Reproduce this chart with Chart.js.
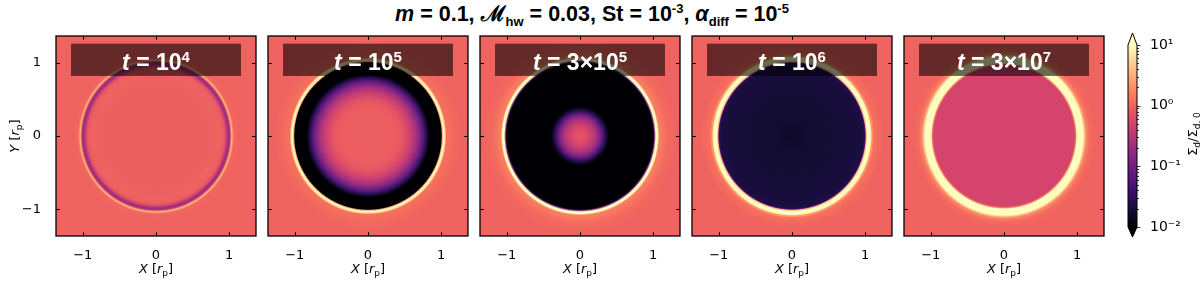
<!DOCTYPE html>
<html>
<head>
<meta charset="utf-8">
<script src="https://cdn.jsdelivr.net/npm/chart.js@4.4.0/dist/chart.umd.min.js"></script>
<style>
  body { margin: 0; width: 1200px; height: 282px; overflow: hidden; background: #fff; position: relative; }
  canvas { position: absolute; }
  #title { position: absolute; left: 0; width: 1184px; top: 2px; text-align: center;
           font: bold 21.5px "Liberation Sans", Arial, sans-serif; color: #000; line-height: 24px; }
  #title sub, #title sup { font-size: 13px; line-height: 0; }
</style>
</head>
<body>
<div id="title"><i>m</i> = 0.1, ℳ<sub>hw</sub> = 0.03, St = 10<sup>-3</sup>, <i>α</i><sub>diff</sub> = 10<sup>-5</sup></div>
<script>
// times shown in the panel headers: [mantissa part, exponent]
const panelTimes = [['10', '4'], ['10', '5'], ['3×10', '5'], ['10', '6'], ['3×10', '7']];

// azimuthally averaged profiles: radius [r_p] and log10(Sigma_d / Sigma_d,0)
const radii1 = [0, 0.75, 0.85, 0.92, 0.955, 0.975, 0.995, 1.012, 1.025, 1.035, 1.048, 1.065, 1.15, 2.0];
const logSigma1 = [-0.02, -0.02, 0.0, -0.04, -0.25, -0.6, -0.7, -0.4, 0.2, 0.6, 0.25, 0.03, 0.0, 0.0];

const radii2 = [0, 0.4, 0.5, 0.6, 0.65, 0.7, 0.75, 0.8, 0.84, 0.86, 1.0, 1.015, 1.03, 1.05, 1.07, 1.2, 1.3, 2.0];
const logSigma2 = [-0.02, -0.05, -0.15, -0.4, -0.6, -0.85, -1.15, -1.6, -2.1, -2.5, -2.5, 0.5, 1.2, 0.8, 0.1, 0.03, 0.0, 0.0];

const radii3 = [0, 0.1, 0.2, 0.25, 0.3, 0.35, 0.4, 0.42, 1.0, 1.015, 1.035, 1.06, 1.08, 1.2, 1.35, 2.0];
const logSigma3 = [-0.1, -0.2, -0.5, -0.75, -1.1, -1.6, -2.2, -2.5, -2.5, -1.0, 1.2, 1.0, 0.2, 0.05, 0.0, 0.0];

const radii4 = [0, 0.05, 0.2, 0.5, 0.95, 0.99, 1.0, 1.012, 1.03, 1.07, 1.09, 1.12, 1.25, 2.0];
const logSigma4 = [-1.8, -1.78, -1.74, -1.7, -1.66, -1.6, -1.1, 0.5, 1.2, 1.0, 0.4, 0.1, 0.0, 0.0];

const radii5 = [0, 0.96, 0.98, 0.995, 1.08, 1.1, 1.12, 1.17, 1.25, 2.0];
const logSigma5 = [-0.28, -0.28, 0.2, 1.0, 1.0, 0.6, 0.25, 0.06, 0.0, 0.0];

const profiles = [[radii1, logSigma1], [radii2, logSigma2], [radii3, logSigma3], [radii4, logSigma4], [radii5, logSigma5]];

const axisTicks = [-1, 0, 1];
const cbarTicks = [0.01, 0.1, 1, 10];
const cbarLabels = ['10⁻²', '10⁻¹', '10⁰', '10¹'];

const LIM = 1.365;
const LOG_MIN = -2, LOG_MAX = 1;
const PANEL_X = [56, 268, 480, 692, 904];

// matplotlib magma, 11 samples
const MAGMA = [[0,0,4],[20,14,54],[59,15,112],[100,26,128],[140,41,129],[183,55,121],[222,73,104],[247,112,92],[254,159,109],[254,207,146],[252,253,191]];
function magma(t) {
  t = Math.max(0, Math.min(1, t));
  const p = t * 10, i = Math.min(9, Math.floor(p)), f = p - i;
  const a = MAGMA[i], b = MAGMA[i + 1];
  return 'rgb(' + a.map((c, k) => Math.round(c + (b[k] - c) * f)).join(',') + ')';
}
const colorOf = v => magma((v - LOG_MIN) / (LOG_MAX - LOG_MIN));

function drawRich(ctx, segs, cx, base, color) {
  let w = 0;
  segs.forEach(s => { ctx.font = s.f; s.w = ctx.measureText(s.t).width; w += s.w; });
  let px = cx - w / 2;
  ctx.fillStyle = color;
  ctx.textAlign = 'left';
  ctx.textBaseline = 'alphabetic';
  segs.forEach(s => { ctx.font = s.f; ctx.fillText(s.t, px, base + (s.dy || 0)); px += s.w; });
}

const LS = '"Liberation Sans", Arial, sans-serif';
const DJ = '"DejaVu Sans", sans-serif';

function axisTitle(letter) {
  return [
    { t: letter, f: 'italic 13px ' + DJ },
    { t: ' [', f: '13px ' + DJ },
    { t: 'r', f: 'italic 13px ' + DJ },
    { t: 'p', f: '9px ' + DJ, dy: 3 },
    { t: ']', f: '13px ' + DJ }
  ];
}

const panelDecor = {
  id: 'panelDecor',
  afterDatasetsDraw(chart) {
    const { ctx, chartArea: a, scales: { x, y } } = chart;
    const idx = chart.options.plugins.panelDecor.index;
    ctx.save();
    // header box
    const bx0 = x.getPixelForValue(-1.16), bx1 = x.getPixelForValue(1.16);
    const by0 = y.getPixelForValue(1.26), by1 = y.getPixelForValue(0.82);
    ctx.fillStyle = 'rgba(0,0,0,0.58)';
    ctx.fillRect(bx0, by0, bx1 - bx0, by1 - by0);
    const [mant, expo] = panelTimes[idx];
    drawRich(ctx, [
      { t: 't', f: 'italic bold 23px ' + LS },
      { t: ' = ' + mant, f: 'bold 23px ' + LS },
      { t: expo, f: 'bold 15px ' + LS, dy: -8 }
    ], x.getPixelForValue(0), y.getPixelForValue(0.9), '#fff');
    // frame
    ctx.strokeStyle = '#000';
    ctx.lineWidth = 1.3;
    ctx.strokeRect(a.left, a.top, a.width, a.height);
    // inward ticks on all sides
    ctx.lineWidth = 1;
    ctx.beginPath();
    axisTicks.forEach(v => {
      const px = Math.round(x.getPixelForValue(v)) + 0.5;
      const py = Math.round(y.getPixelForValue(v)) + 0.5;
      ctx.moveTo(px, a.bottom); ctx.lineTo(px, a.bottom - 4);
      ctx.moveTo(px, a.top); ctx.lineTo(px, a.top + 4);
      ctx.moveTo(a.left, py); ctx.lineTo(a.left + 4, py);
      ctx.moveTo(a.right, py); ctx.lineTo(a.right - 4, py);
    });
    ctx.stroke();
    // axis titles
    drawRich(ctx, axisTitle('X'), (a.left + a.right) / 2, a.bottom + 37, '#000');
    if (idx === 0) {
      ctx.translate(a.left - 37, (a.top + a.bottom) / 2);
      ctx.rotate(-Math.PI / 2);
      drawRich(ctx, axisTitle('Y'), 0, 0, '#000');
    }
    ctx.restore();
  }
};

function makePanel(idx) {
  const cv = document.createElement('canvas');
  cv.width = 260; cv.height = 252;
  cv.style.left = (PANEL_X[idx] - 56) + 'px';
  cv.style.top = '32px';
  document.body.appendChild(cv);
  const [rad, vals] = profiles[idx];
  const rMax = rad[rad.length - 1];
  const radiusPx = chart => {
    const s = chart.scales.x;
    if (!s) return NaN;
    return Math.abs(s.getPixelForValue(rMax) - s.getPixelForValue(0));
  };
  new Chart(cv, {
    type: 'scatter',
    data: {
      datasets: [{
        data: [{ x: 0, y: 0 }],
        clip: 0,
        pointBorderWidth: 0,
        pointRadius: c => {
          const R = radiusPx(c.chart);
          return isFinite(R) ? R : 3;
        },
        pointBackgroundColor: c => {
          const { x, y } = c.chart.scales;
          if (!x || !y) return colorOf(0);
          const cx = x.getPixelForValue(0), cy = y.getPixelForValue(0);
          const R = radiusPx(c.chart);
          if (![cx, cy, R].every(isFinite) || R <= 0) return colorOf(0);
          const g = c.chart.ctx.createRadialGradient(cx, cy, 0, cx, cy, R);
          rad.forEach((r, i) => g.addColorStop(r / rMax, colorOf(vals[i])));
          return g;
        }
      }]
    },
    options: {
      responsive: false,
      animation: false,
      events: [],
      layout: { padding: { top: 2, right: 2, left: 0, bottom: 0 } },
      plugins: { legend: { display: false }, tooltip: { enabled: false }, panelDecor: { index: idx } },
      scales: {
        x: {
          type: 'linear', min: -LIM, max: LIM,
          grid: { display: false }, border: { display: false },
          ticks: { color: '#000', font: { family: 'DejaVu Sans', size: 13 }, padding: 4, maxRotation: 0,
                   callback: v => v < 0 ? '−' + Math.abs(v) : String(v) },
          afterBuildTicks: s => { s.ticks = axisTicks.map(v => ({ value: v })); },
          afterFit: s => { s.height = 48; s.paddingLeft = 0; s.paddingRight = 0; }
        },
        y: {
          type: 'linear', min: -LIM, max: LIM,
          grid: { display: false }, border: { display: false },
          ticks: { display: idx === 0, color: '#000', font: { family: 'DejaVu Sans', size: 13 }, padding: 7,
                   callback: v => v < 0 ? '−' + Math.abs(v) : String(v) },
          afterBuildTicks: s => { s.ticks = axisTicks.map(v => ({ value: v })); },
          afterFit: s => { s.width = 56; s.paddingTop = 0; s.paddingBottom = 0; }
        }
      }
    },
    plugins: [panelDecor]
  });
}

for (let i = 0; i < 5; i++) makePanel(i);

// colorbar
const cbarDecor = {
  id: 'cbarDecor',
  afterDatasetsDraw(chart) {
    const { ctx, chartArea: a, scales: { y } } = chart;
    const top = y.getPixelForValue(10), bot = y.getPixelForValue(0.01);
    const mid = (a.left + a.right) / 2;
    ctx.save();
    ctx.fillStyle = colorOf(LOG_MAX);
    ctx.beginPath(); ctx.moveTo(a.left, top); ctx.lineTo(a.right, top); ctx.lineTo(mid, top - 12); ctx.closePath(); ctx.fill();
    ctx.fillStyle = colorOf(LOG_MIN);
    ctx.beginPath(); ctx.moveTo(a.left, bot); ctx.lineTo(a.right, bot); ctx.lineTo(mid, bot + 10); ctx.closePath(); ctx.fill();
    ctx.strokeStyle = '#000'; ctx.lineWidth = 1;
    ctx.beginPath();
    ctx.moveTo(a.left, top); ctx.lineTo(mid, top - 12); ctx.lineTo(a.right, top);
    ctx.lineTo(a.right, bot); ctx.lineTo(mid, bot + 10); ctx.lineTo(a.left, bot); ctx.closePath();
    ctx.stroke();
    // ticks
    ctx.beginPath();
    cbarTicks.forEach(v => {
      const py = Math.round(y.getPixelForValue(v)) + 0.5;
      ctx.moveTo(a.right, py); ctx.lineTo(a.right + 3.5, py);
    });
    for (let d = -2; d < 1; d++) {
      for (let k = 2; k < 10; k++) {
        const py = Math.round(y.getPixelForValue(k * Math.pow(10, d))) + 0.5;
        ctx.moveTo(a.right, py); ctx.lineTo(a.right + 2, py);
      }
    }
    ctx.lineWidth = 0.8;
    ctx.stroke();
    // label
    ctx.translate(97, 114);
    ctx.rotate(-Math.PI / 2);
    drawRich(ctx, [
      { t: 'Σ', f: '13px ' + DJ },
      { t: 'd', f: '9px ' + DJ, dy: 3 },
      { t: '/Σ', f: '13px ' + DJ },
      { t: 'd, 0', f: '9px ' + DJ, dy: 3 }
    ], 0, 0, '#000');
    ctx.restore();
  }
};

const cbCanvas = document.createElement('canvas');
cbCanvas.width = 100; cbCanvas.height = 240;
cbCanvas.style.left = '1100px'; cbCanvas.style.top = '20px';
document.body.appendChild(cbCanvas);
new Chart(cbCanvas, {
  type: 'bar',
  data: {
    labels: [''],
    datasets: [{
      data: [[cbarTicks[0], cbarTicks[cbarTicks.length - 1]]],
      barPercentage: 1, categoryPercentage: 1, borderWidth: 0, borderSkipped: false,
      backgroundColor: c => {
        const y = c.chart.scales.y;
        if (!y) return colorOf(0);
        const y0 = y.getPixelForValue(0.01), y1 = y.getPixelForValue(10);
        if (!isFinite(y0) || !isFinite(y1)) return colorOf(0);
        const g = c.chart.ctx.createLinearGradient(0, y0, 0, y1);
        MAGMA.forEach((m, i) => g.addColorStop(i / 10, 'rgb(' + m.join(',') + ')'));
        return g;
      }
    }]
  },
  options: {
    responsive: false,
    animation: false,
    events: [],
    layout: { padding: { left: 28, top: 25, bottom: 33, right: 0 } },
    plugins: { legend: { display: false }, tooltip: { enabled: false } },
    scales: {
      x: { display: false },
      y: {
        type: 'logarithmic', position: 'right', min: 0.01, max: 10,
        grid: { display: false }, border: { display: false },
        ticks: { color: '#000', font: { family: 'DejaVu Sans', size: 14 }, padding: 5,
                 callback: (v) => { const i = cbarTicks.findIndex(t => Math.abs(t - v) < t * 1e-6); return i >= 0 ? cbarLabels[i] : ''; } },
        afterBuildTicks: s => { s.ticks = cbarTicks.map(v => ({ value: v })); },
        afterFit: s => { s.width = 63; }
      }
    }
  },
  plugins: [cbarDecor]
});
</script>
</body>
</html>
